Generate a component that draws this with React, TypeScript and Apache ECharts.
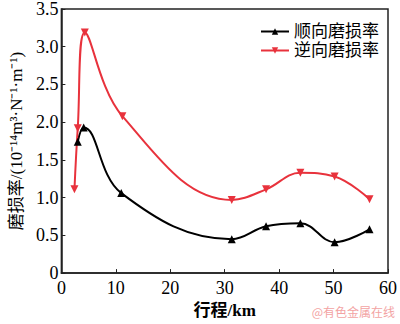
import React, { useEffect, useRef } from "react";
import * as echarts from "echarts";

const forwardKm = [3.0, 4.1, 11.0, 31.3, 37.6, 43.9, 50.2, 56.6];
const forwardRate = [1.74, 1.93, 1.06, 0.45, 0.62, 0.66, 0.41, 0.58];
const reverseKm = [2.4, 3.0, 4.3, 11.2, 31.3, 37.6, 43.9, 50.2, 56.6];
const reverseRate = [1.11, 1.92, 3.19, 2.08, 0.97, 1.11, 1.33, 1.28, 0.98];
const seriesNames = ["顺向磨损率", "逆向磨损率"];
const xName = "行程/km";
const yName = "磨损率/(10⁻¹⁴m³·N⁻¹·m⁻¹)";
const watermark = "@有色金属在线";

const FONT = "'Liberation Serif', 'Noto Sans CJK SC', serif";

export default function App() {
  const ref = useRef<HTMLDivElement>(null);
  useEffect(() => {
    document.body.style.margin = "0";
    if (!ref.current) return;
    const chart = echarts.init(ref.current, null, { renderer: "svg" });
    const zip = (xs: number[], ys: number[]) => xs.map((x, i) => [x, ys[i]]);
    chart.setOption({
      animation: false,
      backgroundColor: "#fff",
      grid: {
        left: 56,
        right: 8,
        top: 7,
        bottom: 46,
        show: true,
        borderColor: "#222",
        borderWidth: 1.5,
      },
      legend: {
        orient: "vertical",
        right: 16,
        top: 18,
        itemWidth: 28,
        itemHeight: 8,
        itemGap: 2,
        textStyle: { fontFamily: FONT, fontSize: 17, color: "#000" },
        data: seriesNames,
      },
      xAxis: {
        type: "value",
        min: 0,
        max: 60,
        interval: 10,
        name: xName,
        nameLocation: "middle",
        nameGap: 27,
        nameTextStyle: { fontFamily: FONT, fontSize: 17, fontWeight: "bold", color: "#000" },
        axisLine: { lineStyle: { color: "#222", width: 1.5 } },
        axisTick: { inside: true, length: 4, lineStyle: { color: "#222" } },
        axisLabel: { fontFamily: FONT, fontSize: 18, color: "#000", margin: 6 },
        splitLine: { show: false },
      },
      yAxis: {
        type: "value",
        min: 0,
        max: 3.5,
        interval: 0.5,
        name: yName,
        nameLocation: "middle",
        nameGap: 35,
        nameRotate: 90,
        nameTextStyle: { fontFamily: FONT, fontSize: 17, color: "#000" },
        axisLine: { show: true, lineStyle: { color: "#222", width: 1.5 } },
        axisTick: { show: true, inside: true, length: 4, lineStyle: { color: "#222" } },
        axisLabel: {
          fontFamily: FONT,
          fontSize: 18,
          color: "#000",
          margin: 3,
          formatter: (v: number) => (v === 0 ? "0" : v.toFixed(1)),
        },
        splitLine: { show: false },
      },
      graphic: [
        {
          type: "text",
          right: 5,
          top: 305,
          style: {
            text: watermark,
            fontFamily: "'Noto Sans CJK SC', sans-serif",
            fontSize: 12,
            fill: "#f3a3a3",
          },
        },
      ],
      series: [
        {
          name: seriesNames[0],
          type: "line",
          smooth: 0.4,
          data: zip(forwardKm, forwardRate),
          symbol: "triangle",
          symbolSize: 8,
          lineStyle: { color: "#000", width: 2 },
          itemStyle: { color: "#000" },
        },
        {
          name: seriesNames[1],
          type: "line",
          smooth: 0.4,
          data: zip(reverseKm, reverseRate),
          symbol: "triangle",
          symbolRotate: 180,
          symbolSize: 8,
          lineStyle: { color: "#e8323c", width: 2 },
          itemStyle: { color: "#e8323c" },
        },
      ],
    });
    return () => chart.dispose();
  }, []);
  return <div ref={ref} style={{ width: 400, height: 324 }} />;
}
